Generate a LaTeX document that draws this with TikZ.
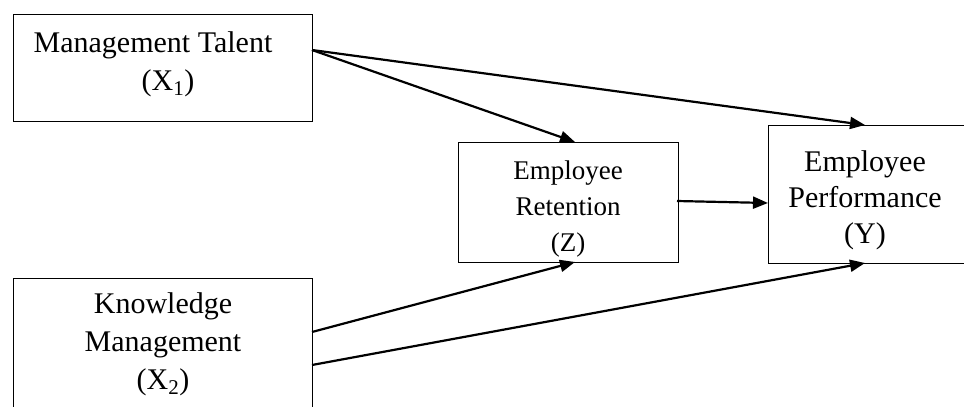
\documentclass[tikz,border=0pt]{standalone}
\usepackage{fontspec}
\setmainfont{Liberation Serif}
\usetikzlibrary{arrows.meta}
\begin{document}
\begin{tikzpicture}[x=1pt,y=-1pt,
  box/.style={draw,line width=1.3pt,anchor=north west,inner sep=0pt},
  lbl/.style={align=center,inner sep=0pt,font=\fontsize{30}{38}\selectfont},
  lblsmall/.style={align=center,inner sep=0pt,font=\fontsize{27}{36}\selectfont},
  conn/.style={line width=2.2pt,-{Triangle[length=15pt,width=12pt]}}]
\useasboundingbox (0,0) rectangle (964,407);
\clip (0,0) rectangle (964,407);
% boxes
\node[box,minimum width=299pt,minimum height=107pt] (x1) at (13,14) {};
\node[box,minimum width=299pt,minimum height=150pt] (x2) at (13,278) {};
\node[box,minimum width=220pt,minimum height=120pt] (z) at (458,142) {};
\node[box,minimum width=220pt,minimum height=138pt] (y) at (768,125) {};
% labels
\node[lbl] (x1t) at (153,64) {Management Talent\\\hspace*{30pt}(X\textsubscript{1})};
\node[lbl] (x2t) at (163,344) {Knowledge\\Management\\(X\textsubscript{2})};
\node[lblsmall] (zt) at (568,209) {Employee\\Retention\\(Z)};
\node[lbl,font=\fontsize{30}{36}\selectfont] (yt) at (865,200) {Employee\\Performance\\(Y)};
% anchors
\coordinate (a1) at (312,50);
\coordinate (a2) at (312,332);
\coordinate (a3) at (312,365);
\coordinate (zt1) at (575,142);
\coordinate (zb1) at (575,262);
\coordinate (yt1) at (865,125);
\coordinate (yb1) at (865,263);
\coordinate (zr) at (677,201);
\coordinate (yl) at (768,203);
% connectors
\draw[conn] (a1) -- (zt1);
\draw[conn] (a1) -- (yt1);
\draw[conn] (a2) -- (zb1);
\draw[conn] (a3) -- (yb1);
\draw[conn] (zr) -- (yl);
\end{tikzpicture}
\end{document}
